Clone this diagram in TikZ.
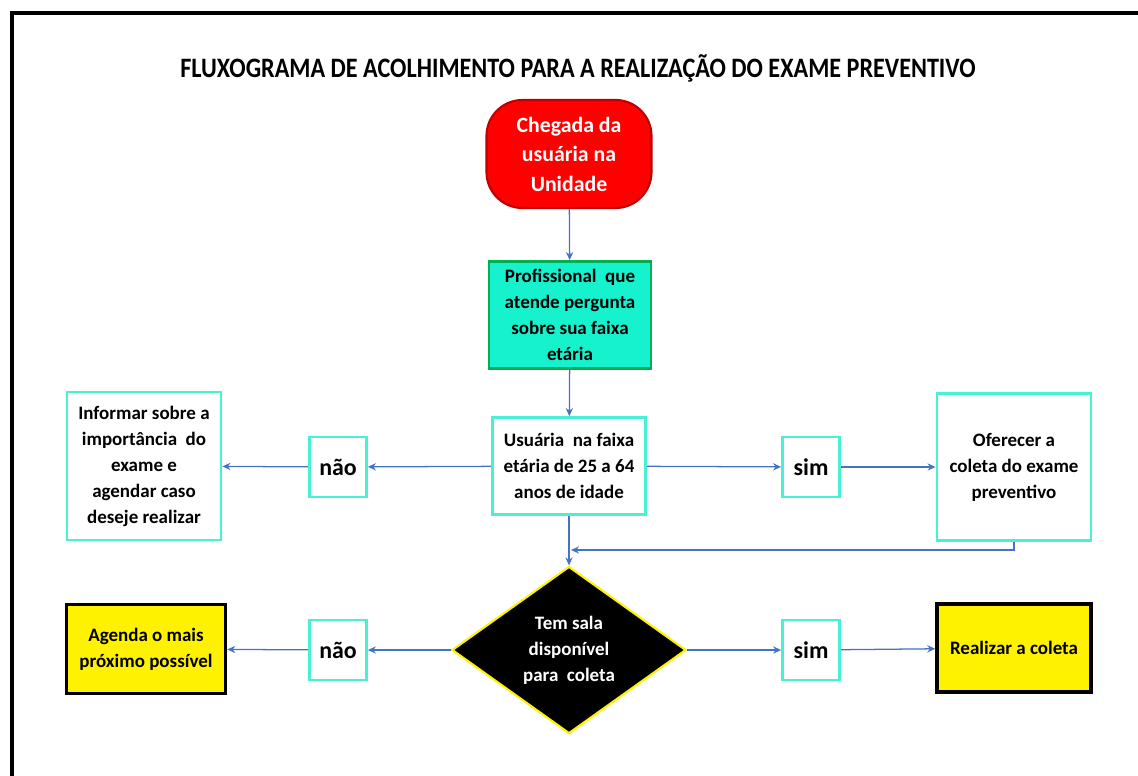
\documentclass[tikz,border=0pt]{standalone}
\usepackage{fontspec}
\setmainfont{Carlito}
\usetikzlibrary{shapes.geometric,arrows.meta}

\definecolor{startred}{RGB}{255,0,0}
\definecolor{startborder}{RGB}{192,0,0}
\definecolor{askfill}{RGB}{22,242,206}
\definecolor{askborder}{RGB}{0,176,80}
\definecolor{turq}{RGB}{72,240,212}
\definecolor{flowblue}{RGB}{68,114,196}

\tikzset{
    basebox/.style={rectangle, align=center, inner sep=2pt,
        font=\bfseries\fontsize{13.5}{18.5}\selectfont},
    tealbox/.style={basebox, draw=turq, line width=2pt, fill=white},
    answer/.style={tealbox, minimum width=1.425cm, minimum height=1.5cm,
        font=\bfseries\fontsize{17}{20}\selectfont},
    yellowbox/.style={basebox, draw=black, fill=yellow, line width=2.5pt},
    arr/.style={draw=flowblue, line width=0.9pt, -{Stealth[length=2mm,width=1.8mm]}}
}

\begin{document}
\begin{tikzpicture}[x=0.025cm, y=-0.025cm]
    \useasboundingbox (0,0) rectangle (1138,776);

    % Outer frame
    \draw[line width=3pt] (12,800) -- (12,13) -- (1160,13);

    % Title
    \node[font=\bfseries\fontsize{20}{24}\selectfont, xscale=0.86] (title) at (578,68)
        {FLUXOGRAMA DE ACOLHIMENTO PARA A REALIZAÇÃO DO EXAME PREVENTIVO};

    % Start
    \node[basebox, fill=startred, draw=startborder, line width=1.5pt, rounded corners=0.9cm,
        text=white, font=\bfseries\fontsize{15.5}{21}\selectfont,
        minimum width=4.125cm, minimum height=2.7cm] (start) at (569,154)
        {Chegada da\\usuária na\\Unidade};

    % Question on age
    \node[basebox, fill=askfill, draw=askborder, line width=2pt,
        minimum width=4.05cm, minimum height=2.675cm] (ask) at (570,315)
        {Profissional\ \ que\\atende pergunta\\sobre sua faixa\\etária};

    % Age range
    \node[tealbox, minimum width=3.825cm, minimum height=2.425cm] (age) at (569,466)
        {Usuária\ \ na faixa\\etária de 25 a 64\\anos de idade};

    \node[answer] (no1) at (338,467) {não};
    \node[answer] (yes1) at (811,467) {sim};

    \node[tealbox, minimum width=3.85cm, minimum height=3.7cm] (inform) at (144,466)
        {Informar\ sobre a\\importância\ \ do\\exame e\\agendar\ caso\\deseje realizar};
    \node[tealbox, minimum width=3.85cm, minimum height=3.675cm] (offer) at (1014,467)
        {Oferecer a\\coleta do exame\\preventivo};

    % Room decision
    \node[diamond, aspect=1.4, fill=black, draw=yellow, line width=1.5pt, inner sep=0pt,
        align=center, text=white, font=\bfseries\fontsize{13.5}{18.5}\selectfont,
        minimum width=5.85cm, minimum height=4.175cm] (room) at (569,650)
        {Tem sala\\disponível\\para\ \ coleta};

    \node[answer] (no2) at (338,650) {não};
    \node[answer] (yes2) at (811,650) {sim};

    \node[yellowbox, minimum width=3.975cm, minimum height=2.225cm] (later) at (146,649)
        {Agenda o mais\\próximo\ possível};
    \node[yellowbox, minimum width=3.85cm, minimum height=2.2cm] (collect) at (1014,648)
        {Realizar a coleta};

    % Connectors
    \coordinate (merge) at (571,550);
    \draw[arr] (start) -- (ask);
    \draw[arr] (ask) -- (age);
    \draw[arr] (age) -- (no1);
    \draw[arr] (no1) -- (inform);
    \draw[arr] (age) -- (yes1);
    \draw[arr] (yes1) -- (offer);
    \draw[arr] (age) -- (room);
    \draw[arr] (offer.south) |- (merge);
    \draw[arr] (room) -- (no2);
    \draw[arr] (no2) -- (later);
    \draw[arr] (room) -- (yes2);
    \draw[arr] (yes2) -- (collect);
\end{tikzpicture}
\end{document}
